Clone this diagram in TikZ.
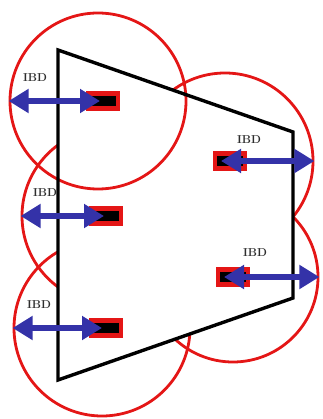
\documentclass[tikz,border=0pt]{standalone}
\usetikzlibrary{arrows.meta}
\definecolor{ringred}{RGB}{228,22,22}
\definecolor{arrowblue}{RGB}{52,50,168}
\definecolor{labelgray}{RGB}{45,45,45}
\begin{document}
\begin{tikzpicture}[x=1pt,y=-1pt,
  ring/.style={circle, draw=ringred, line width=2.8pt, minimum size=176pt, inner sep=0pt},
  wall/.style={draw=black, line width=3.4pt, line join=miter},
  probe/.style={rectangle, draw=ringred, line width=4.5pt, fill=black,
                minimum width=30pt, minimum height=15pt, inner sep=0pt},
  ibd/.style={draw=arrowblue, line width=6.5pt,
              {Triangle[length=20pt,width=23pt]}-{Triangle[length=20pt,width=23pt]}},
  tag/.style={font=\fontsize{11.5}{12}\selectfont\bfseries, text=labelgray, inner sep=0pt}]
  \useasboundingbox (0,0) rectangle (322,419);

  % first range circle, drawn in full
  \node[ring] (c1) at (98,101) {};

  % the other range circles only show outside the hall
  \begin{scope}
    \clip (-20,-20) -- (342,-20) -- (342,439) -- (-20,439) -- cycle
          (58,50) -- (58,380) -- (293,298) -- (293,132) -- cycle;
    \node[ring] (c2) at (110,216) {};
    \node[ring] (c3) at (102,328) {};
    \node[ring] (c4) at (225,161) {};
    \node[ring, minimum size=170pt] (c5) at (233,277) {};
  \end{scope}

  % hall outline
  \draw[wall] (58,50) -- (58,380) -- (293,298) -- (293,132) -- cycle;

  % sensors
  \node[probe] (p1) at (103,101) {};
  \node[probe] (p2) at (106,216) {};
  \node[probe] (p3) at (106,328) {};
  \node[probe] (p4) at (230,161) {};
  \node[probe] (p5) at (233,277) {};

  % detection distance arrows
  \draw[ibd] (c1.west) -- ([xshift=-3pt]p1.center);
  \draw[ibd] (c2.west) -- ([xshift=-2pt]p2.center);
  \draw[ibd] (c3.west) -- ([xshift=-4pt]p3.center);
  \draw[ibd] ([xshift=-9pt]p4.center) -- (c4.east);
  \draw[ibd] ([xshift=-9pt]p5.center) -- (c5.east);

  % labels
  \node[tag] (t1) at (35,78) {IBD};
  \node[tag] (t2) at (45,193) {IBD};
  \node[tag] (t3) at (39,305) {IBD};
  \node[tag] (t4) at (249,140) {IBD};
  \node[tag] (t5) at (255,253) {IBD};
\end{tikzpicture}
\end{document}
